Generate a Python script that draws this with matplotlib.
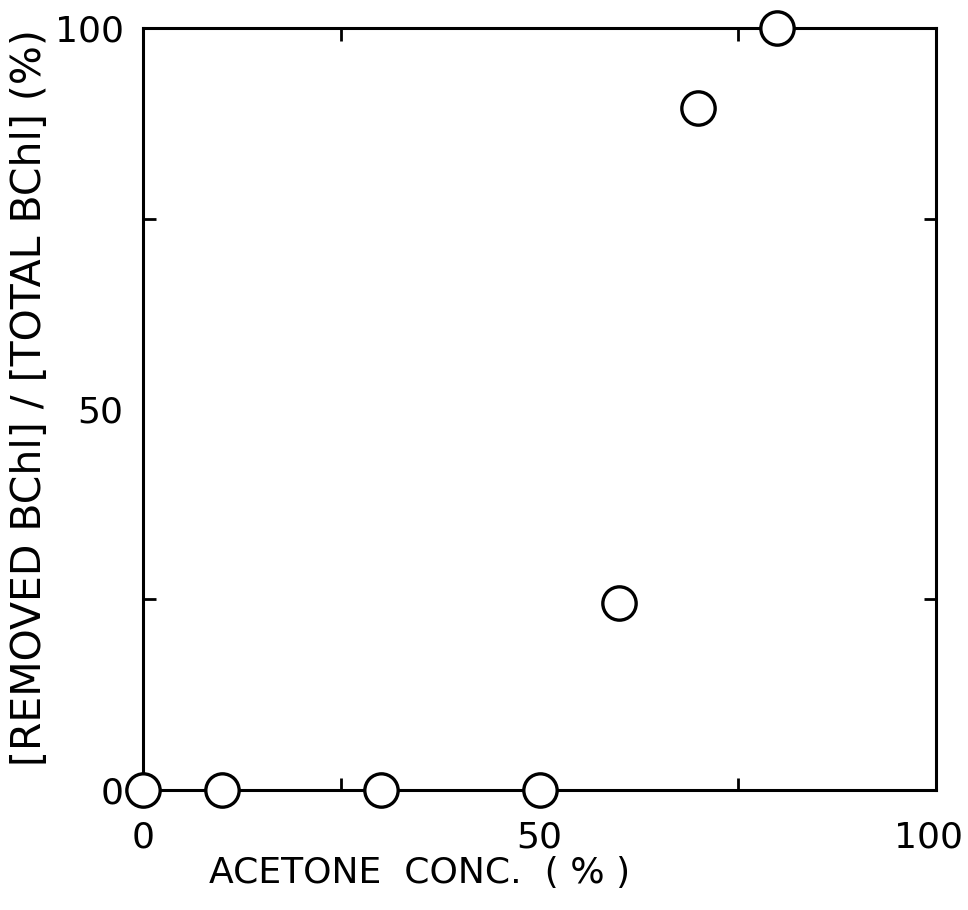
import matplotlib
matplotlib.use("Agg")
import matplotlib.pyplot as plt
import matplotlib.transforms as mtransforms
from matplotlib.ticker import MultipleLocator

# acetone concentration (%) vs removed / total BChl (%)
acetone_conc = [0, 10, 30, 50, 60, 70, 80]
removed_frac = [0, 0, 0, 0, 24.5, 89.5, 100]

x_ticks = [0, 50, 100]
y_ticks = [0, 50, 100]

plt.rcParams['font.family'] = ['DejaVu Sans']

fig = plt.figure(figsize=(9.68, 9.10), dpi=100)
ax = fig.add_axes([0.1477, 0.132, 0.8193, 0.837])

ax.plot(acetone_conc, removed_frac, linestyle='none', marker='o',
        markersize=24, markerfacecolor='white', markeredgecolor='black',
        markeredgewidth=2.4, clip_on=False, zorder=5)

ax.set_xlim(0, 100)
ax.set_ylim(0, 100)
ax.set_xticks(x_ticks)
ax.set_yticks(y_ticks)
ax.xaxis.set_minor_locator(MultipleLocator(25))
ax.yaxis.set_minor_locator(MultipleLocator(25))

for s in ax.spines.values():
    s.set_linewidth(2.2)

ax.tick_params(which='both', direction='in', top=True, right=True,
               width=2, labelsize=26)
ax.tick_params(which='major', length=0)
ax.tick_params(axis='x', which='major', pad=22)
ax.tick_params(axis='y', which='major', pad=14)
ax.tick_params(which='minor', length=9)

# the "100" on the x axis sits a bit left so it stays inside the figure
last_lbl = ax.get_xticklabels()[-1]
last_lbl.set_transform(last_lbl.get_transform() +
                       mtransforms.ScaledTranslation(-0.08, 0, fig.dpi_scale_trans))

fig.text(420 / 968, 1 - 873 / 910, 'ACETONE  CONC.  ( % )', ha='center',
         va='center', fontsize=26)
fig.text(30 / 968, 1 - 398 / 910, '[REMOVED BChl] / [TOTAL BChl] (%)',
         ha='center', va='center', rotation=90, fontsize=29.5)

fig.savefig('out.png', dpi=100)
